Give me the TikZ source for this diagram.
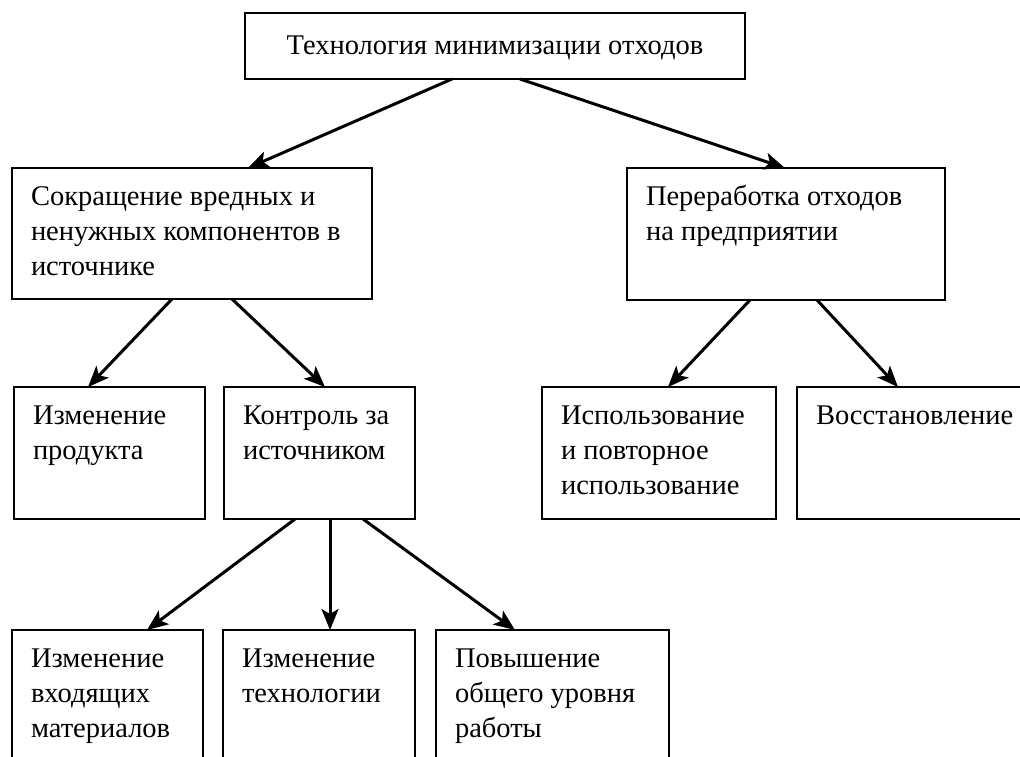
\documentclass[tikz,border=0pt]{standalone}
\usepackage{fontspec}
\setmainfont{Liberation Serif}
\usetikzlibrary{arrows.meta,calc}
\newcommand{\boxtxt}[3]{\parbox[t][#2][t]{#1}{\raggedright\strut #3}}
\begin{document}
\begin{tikzpicture}[x=1pt,y=-1pt,
  bx/.style={draw, line width=2.8pt, anchor=north west, outer sep=0pt, inner xsep=19pt, inner ysep=12.5pt, font=\fontsize{28.5}{35}\selectfont},
  arr/.style={line width=3pt, -{Stealth[length=21pt,width=17pt,inset=5pt]}}]
\useasboundingbox (0,0) rectangle (1020,756);
\clip (0,0) rectangle (1020,756);
\node[bx, anchor=center, minimum width=500pt, minimum height=66pt, inner sep=0pt, text depth=2pt] (top) at (495,46) {Технология минимизации отходов};
\node[bx] (l1) at (12,168) {\boxtxt{322pt}{106pt}{Сокращение вредных и\\ненужных компонентов в\\источнике}};
\node[bx] (r1) at (627,168) {\boxtxt{280pt}{107pt}{Переработка отходов\\на предприятии}};
\node[bx] (l2a) at (14,387) {\boxtxt{153pt}{107pt}{Изменение\\продукта}};
\node[bx] (l2b) at (224,387) {\boxtxt{153pt}{107pt}{Контроль за\\источником}};
\node[bx] (r2a) at (542,387) {\boxtxt{196pt}{107pt}{Использование\\и повторное\\использование}};
\node[bx] (r2b) at (797,387) {\boxtxt{200pt}{107pt}{Восстановление}};
\node[bx] (l3a) at (12,630) {\boxtxt{153pt}{120pt}{Изменение\\входящих\\материалов}};
\node[bx] (l3b) at (223,630) {\boxtxt{154pt}{120pt}{Изменение\\технологии}};
\node[bx] (l3c) at (436,630) {\boxtxt{195pt}{120pt}{Повышение\\общего уровня\\работы}};
\draw[arr] ($(top.south west)+(207,0)$) -- ($(l1.north west)+(236,0)$);
\draw[arr] ($(top.south west)+(275,0)$) -- ($(r1.north west)+(158,0)$);
\draw[arr] ($(l1.south west)+(160,0)$) -- ($(l2a.north west)+(74,0)$);
\draw[arr] ($(l1.south west)+(220,0)$) -- ($(l2b.north west)+(101,0)$);
\draw[arr] ($(r1.south west)+(123,0)$) -- ($(r2a.north west)+(126,0)$);
\draw[arr] ($(r1.south west)+(190,0)$) -- ($(r2b.north west)+(101,0)$);
\draw[arr] ($(l2b.south west)+(71,0)$) -- ($(l3a.north west)+(135,0)$);
\draw[arr] ($(l2b.south west)+(106,0)$) -- ($(l3b.north west)+(107,0)$);
\draw[arr] ($(l2b.south west)+(139,0)$) -- ($(l3c.north west)+(79,0)$);
\end{tikzpicture}
\end{document}
